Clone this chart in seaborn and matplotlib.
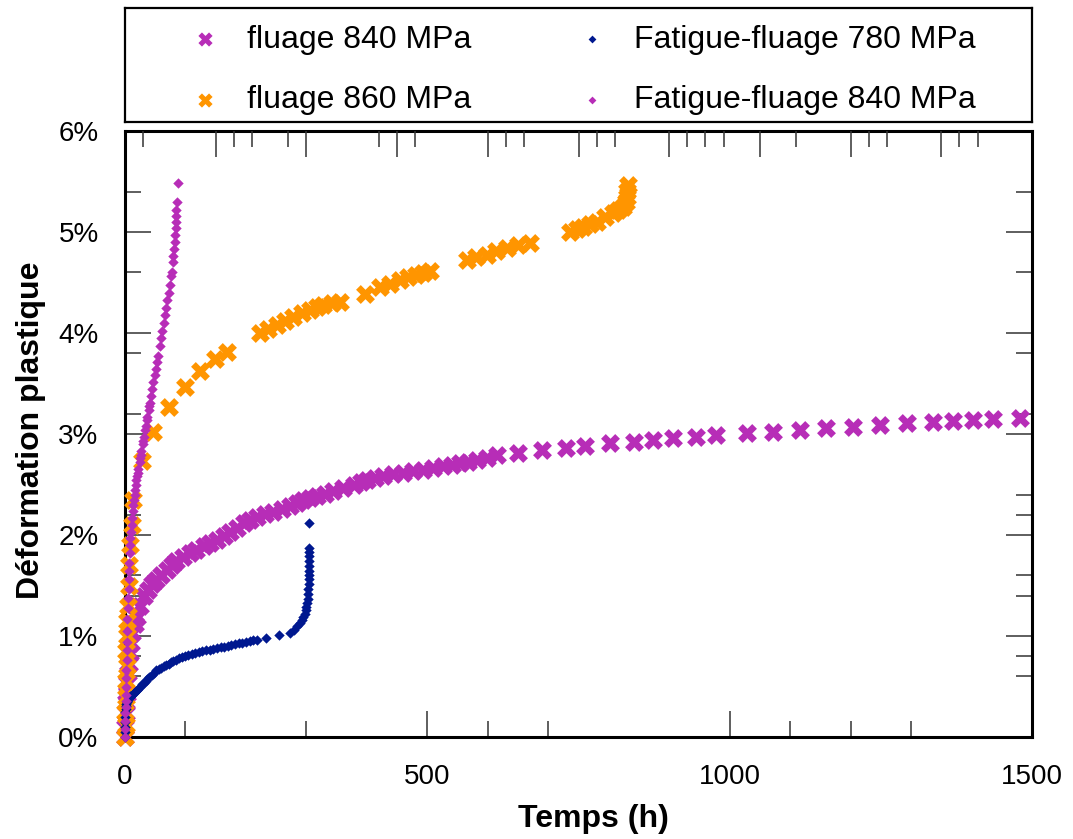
import numpy as np
import matplotlib
matplotlib.use("Agg")
import matplotlib.pyplot as plt
import seaborn as sns

# fluage 840 MPa (h, %)
t_f840 = [0, 0, 1, 2, 3, 4, 5, 6, 8, 10,
          12, 16, 20, 25, 32, 38, 45, 52, 60, 69,
          77, 85, 96, 107, 118, 130, 140, 152, 163, 174,
          185, 196, 207, 218, 232, 245, 259, 273, 284, 295,
          306, 317, 330, 344, 361, 378, 390, 400, 414, 427,
          444, 460, 477, 493, 510, 526, 540, 554, 568, 582,
          598, 615, 650, 690, 730, 760, 802, 841, 874, 907,
          945, 978, 1028, 1072, 1116, 1160, 1204, 1249, 1293, 1337,
          1370, 1403, 1436, 1480]
e_f840 = [0.0, 0.1, 0.24, 0.35, 0.43, 0.53, 0.63, 0.72, 0.83, 0.93,
          1.03, 1.12, 1.19, 1.3, 1.4, 1.46, 1.51, 1.55, 1.6, 1.65,
          1.7, 1.74, 1.78, 1.82, 1.85, 1.89, 1.92, 1.95, 1.99, 2.03,
          2.07, 2.12, 2.15, 2.18, 2.21, 2.23, 2.26, 2.29, 2.32, 2.35,
          2.37, 2.39, 2.41, 2.44, 2.47, 2.5, 2.52, 2.54, 2.56, 2.58,
          2.6, 2.61, 2.63, 2.64, 2.66, 2.68, 2.69, 2.71, 2.72, 2.74,
          2.76, 2.79, 2.81, 2.84, 2.86, 2.88, 2.91, 2.92, 2.94, 2.96,
          2.97, 2.99, 3.01, 3.02, 3.04, 3.06, 3.07, 3.09, 3.11, 3.12,
          3.13, 3.14, 3.15, 3.16]

# fluage 860 MPa
t_f860 = [0, 1, 0, 2, 1, 3, 2, 4, 3, 5, 6, 7, 9, 11, 14,
          28, 47, 72, 99, 124, 149, 168,
          223, 237, 251, 264, 278, 292, 306, 317, 328, 342, 356,
          397,
          422, 438, 455, 468, 482, 493, 504,
          565, 581, 598, 614, 631, 650, 670,
          736, 747, 758, 769, 780, 794, 807, 816, 824, 828, 830, 831, 832]
e_f860 = [0.0, 0.12, 0.25, 0.4, 0.55, 0.7, 0.85, 1.0, 1.15, 1.3, 1.5, 1.7, 1.9, 2.1, 2.35,
          2.73, 3.02, 3.27, 3.47, 3.62, 3.74, 3.81,
          4.0, 4.04, 4.08, 4.12, 4.16, 4.2, 4.23, 4.26, 4.28, 4.3, 4.31,
          4.39,
          4.46, 4.49, 4.52, 4.55, 4.57, 4.59, 4.61,
          4.72, 4.75, 4.77, 4.81, 4.84, 4.87, 4.89,
          5.0, 5.03, 5.05, 5.08, 5.1, 5.15, 5.19, 5.22, 5.25, 5.3, 5.35, 5.41, 5.47]

# Fatigue-fluage 780 MPa
t_ff780 = [0, 0, 0, 0, 0, 0, 1, 1, 2, 3,
           4, 5, 7, 9, 11, 13, 15, 17, 20, 22,
           25, 28, 31, 34, 37, 40, 44, 48, 52, 56,
           60, 64, 68, 72, 76, 80, 85, 90, 95, 100,
           105, 110, 116, 122, 128, 134, 140, 146, 152, 158,
           164, 170, 176, 182, 188, 194, 200, 206, 212, 218,
           234, 254, 273, 280, 285, 289, 292, 295, 297, 299,
           300, 301, 302, 303, 303, 304, 304, 305, 305, 305,
           305, 305, 304, 304, 304]
e_ff780 = [0.0, 0.05, 0.1, 0.15, 0.2, 0.25, 0.28, 0.31, 0.33, 0.35,
           0.36, 0.37, 0.39, 0.41, 0.42, 0.43, 0.44, 0.45, 0.47, 0.48,
           0.5, 0.52, 0.53, 0.55, 0.57, 0.59, 0.61, 0.63, 0.66, 0.67,
           0.68, 0.7, 0.71, 0.72, 0.74, 0.75, 0.76, 0.78, 0.79, 0.8,
           0.81, 0.82, 0.83, 0.84, 0.85, 0.86, 0.86, 0.87, 0.88, 0.89,
           0.89, 0.9, 0.91, 0.92, 0.93, 0.93, 0.94, 0.95, 0.96, 0.96,
           0.98, 1.01, 1.03, 1.06, 1.1, 1.13, 1.16, 1.19, 1.22, 1.26,
           1.29, 1.33, 1.37, 1.42, 1.47, 1.51, 1.56, 1.6, 1.64, 1.69,
           1.74, 1.79, 1.83, 1.87, 2.12]

# Fatigue-fluage 840 MPa
t_ff840 = [0, 0, 0, 0, 1, 1, 1, 2, 2, 2,
           3, 3, 3, 4, 4, 5, 5, 6, 6, 7,
           7, 8, 8, 9, 10, 11, 12, 13, 14, 15,
           16, 17, 18, 19, 20, 21, 22, 24, 25, 26,
           27, 29, 30, 31, 33, 34, 36, 37, 39, 40,
           41, 43, 45, 47, 49, 51, 53, 55, 58, 60,
           62, 64, 66, 68, 70, 72, 74, 76, 77, 79,
           80, 81, 82, 83, 84, 84, 85, 85, 86, 87]
e_ff840 = [0.0, 0.08, 0.16, 0.24, 0.3, 0.36, 0.42, 0.5, 0.58, 0.66,
           0.76, 0.86, 0.94, 1.05, 1.17, 1.28, 1.38, 1.47, 1.56, 1.64,
           1.72, 1.82, 1.9, 1.97, 2.03, 2.1, 2.17, 2.24, 2.3, 2.35,
           2.4, 2.45, 2.5, 2.54, 2.58, 2.61, 2.65, 2.72, 2.76, 2.79,
           2.83, 2.9, 2.93, 2.97, 3.04, 3.08, 3.14, 3.17, 3.24, 3.28,
           3.31, 3.38, 3.45, 3.51, 3.58, 3.64, 3.71, 3.77, 3.87, 3.95,
           4.02, 4.1, 4.18, 4.25, 4.33, 4.4, 4.48, 4.56, 4.6, 4.7,
           4.76, 4.83, 4.9, 4.97, 5.04, 5.1, 5.16, 5.22, 5.3, 5.49]

x_ticks = [0, 500, 1000, 1500]
x_labels = ["0", "500", "1000", "1500"]
y_ticks = [0, 1, 2, 3, 4, 5, 6]
y_labels = ["0%", "1%", "2%", "3%", "4%", "5%", "6%"]

magenta = "#B72DB7"
orange = "#FF9500"
navy = "#00188F"

sns.set_style("ticks")
plt.rcParams["font.family"] = ["Liberation Sans", "DejaVu Sans"]
plt.rcParams["text.color"] = "black"
plt.rcParams["axes.labelcolor"] = "black"

fig = plt.figure(figsize=(10.73, 8.39), dpi=100)
ax = fig.add_axes([125 / 1073, 102 / 839, 907 / 1073, 606 / 839])

series = [
    ("fluage 840 MPa", t_f840, e_f840, "X", magenta, 185),
    ("fluage 860 MPa", t_f860, e_f860, "X", orange, 185),
    ("Fatigue-fluage 780 MPa", t_ff780, e_ff780, "D", navy, 28),
    ("Fatigue-fluage 840 MPa", t_ff840, e_ff840, "D", magenta, 28),
]
for i, (name, t, e, mk, col, sz) in enumerate(series):
    sns.scatterplot(x=t, y=e, ax=ax, marker=mk, color=col, s=sz,
                    linewidth=0, label=name, clip_on=False, zorder=3 + i)

ax.set_xlim(0, 1500)
ax.set_ylim(0, 6)
ax.set_xticks(x_ticks)
ax.set_xticklabels(x_labels)
ax.set_xticks([100, 300, 600, 700, 1100, 1200, 1300], minor=True)
ax.set_yticks(y_ticks)
ax.set_yticklabels(y_labels)
ax.set_yticks([0.6, 0.8, 1.4, 1.6, 2.2, 2.4, 3.2, 3.8, 4.6, 5.4], minor=True)

ax.tick_params(which="both", direction="in", right=True, top=False,
               width=1.1, color="#333333", labelsize=20, labelcolor="black")
ax.tick_params(which="major", length=19)
ax.tick_params(which="minor", length=11.5)
ax.tick_params(axis="x", pad=19.5)
ax.tick_params(axis="y", pad=19)
for sp in ax.spines.values():
    sp.set_visible(True)
    sp.set_linewidth(2.2)
    sp.set_color("black")

# top axis ticks
top = ax.twiny()
top.set_xlim(0, 1500)
top.set_xticks([150, 300, 450, 600, 750, 900, 1050, 1200, 1350])
top.set_xticks([30, 180, 210, 270, 420, 480, 630, 660, 780, 810, 930, 960,
                990, 1110, 1230, 1260, 1380, 1410], minor=True)
top.tick_params(which="both", direction="in", labeltop=False, width=1.1,
                color="#333333")
top.tick_params(which="major", length=19)
top.tick_params(which="minor", length=11.5)
for sp in top.spines.values():
    sp.set_visible(False)

ax.set_xlabel("Temps (h)", fontsize=23, fontweight="bold")
ax.set_ylabel("Déformation plastique", fontsize=23, fontweight="bold")
ax.xaxis.set_label_coords(0.516, -0.11)
ax.yaxis.set_label_coords(-0.087, 0.507)

handles, labels = ax.get_legend_handles_labels()
ax.get_legend().remove()

lax = fig.add_axes([125 / 1073, (839 - 122) / 839, 907 / 1073, 114 / 839])
lax.set_xticks([])
lax.set_yticks([])
for sp in lax.spines.values():
    sp.set_visible(True)
    sp.set_linewidth(1.6)
    sp.set_color("black")
lax.legend(handles, labels, loc="center left", bbox_to_anchor=(0.0706, 0.456),
           ncol=2, frameon=False, fontsize=23, borderpad=0, handlelength=1.0,
           handletextpad=0.8, columnspacing=3.3, labelspacing=0.95,
           markerscale=0.75, borderaxespad=0)

fig.savefig("out.png", dpi=100)
